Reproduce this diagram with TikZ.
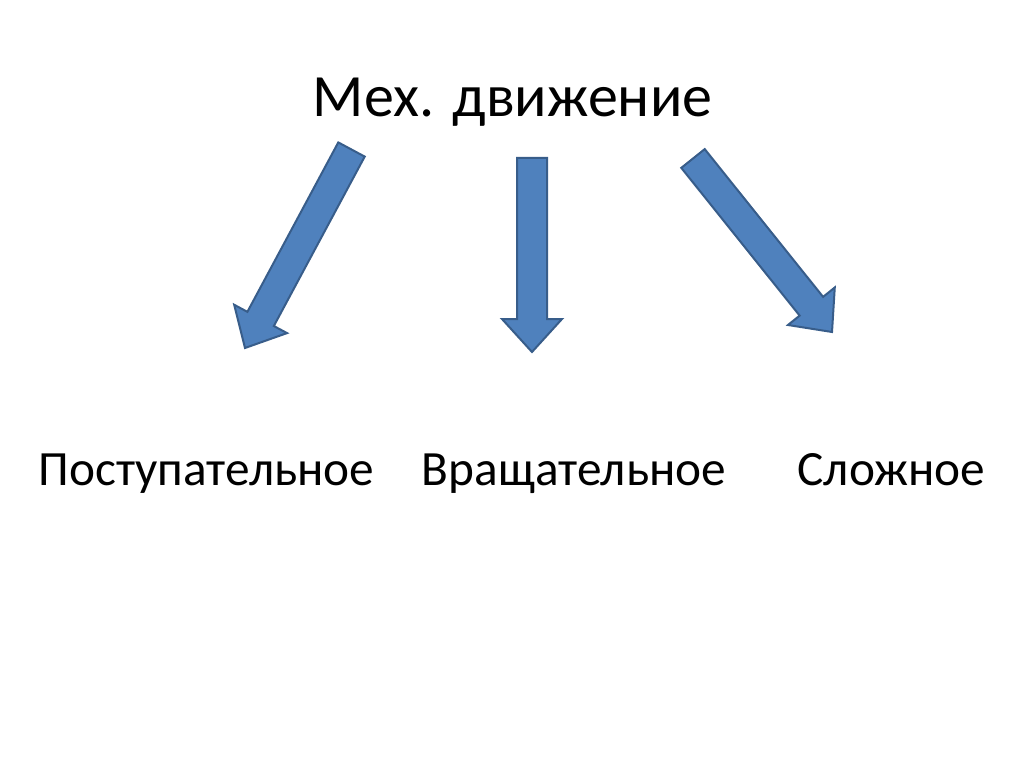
\documentclass[tikz,border=0pt]{standalone}
\usepackage{fontspec}
\setmainfont{Carlito}
\usetikzlibrary{calc}
\definecolor{arrowfill}{HTML}{4F81BD}
\definecolor{arrowline}{HTML}{385D8A}
\tikzset{
  blockarrow/.style={fill=arrowfill, draw=arrowline, line width=2pt, line join=miter},
  titletext/.style={anchor=base, inner sep=0pt, font=\fontsize{60}{72}\selectfont},
  itemtext/.style={anchor=base, inner sep=0pt, font=\fontsize{49.3}{59}\selectfont}
}
\newcommand\myblockarrow[2]{%
  \filldraw[blockarrow]
    ($(#1)!15pt!-90:(#2)$) --
    ($($(#2)!33pt!(#1)$)!15pt!90:(#1)$) --
    ($($(#2)!33pt!(#1)$)!30pt!90:(#1)$) --
    (#2) --
    ($($(#2)!33pt!(#1)$)!30pt!-90:(#1)$) --
    ($($(#2)!33pt!(#1)$)!15pt!-90:(#1)$) --
    ($(#1)!15pt!90:(#2)$) -- cycle;%
}
\begin{document}
\begin{tikzpicture}[x=1pt,y=-1pt]
\useasboundingbox[fill=white] (0,0) rectangle (1024,767);
\node[titletext] (title) at (512.5,117) {Мех. движение};
\node[itemtext] (post) at (206.5,485) {Поступательное};
\node[itemtext] (vrash) at (574,485) {Вращательное};
\node[itemtext] (slozh) at (891.5,485) {Сложное};
\coordinate (lt) at (351.5,149.5);
\coordinate (lp) at (245,348);
\coordinate (mt) at (532,158);
\coordinate (mp) at (532,352);
\coordinate (rt) at (693,158.5);
\coordinate (rp) at (832,332);
\myblockarrow{lt}{lp}
\myblockarrow{mt}{mp}
\myblockarrow{rt}{rp}
\end{tikzpicture}
\end{document}
